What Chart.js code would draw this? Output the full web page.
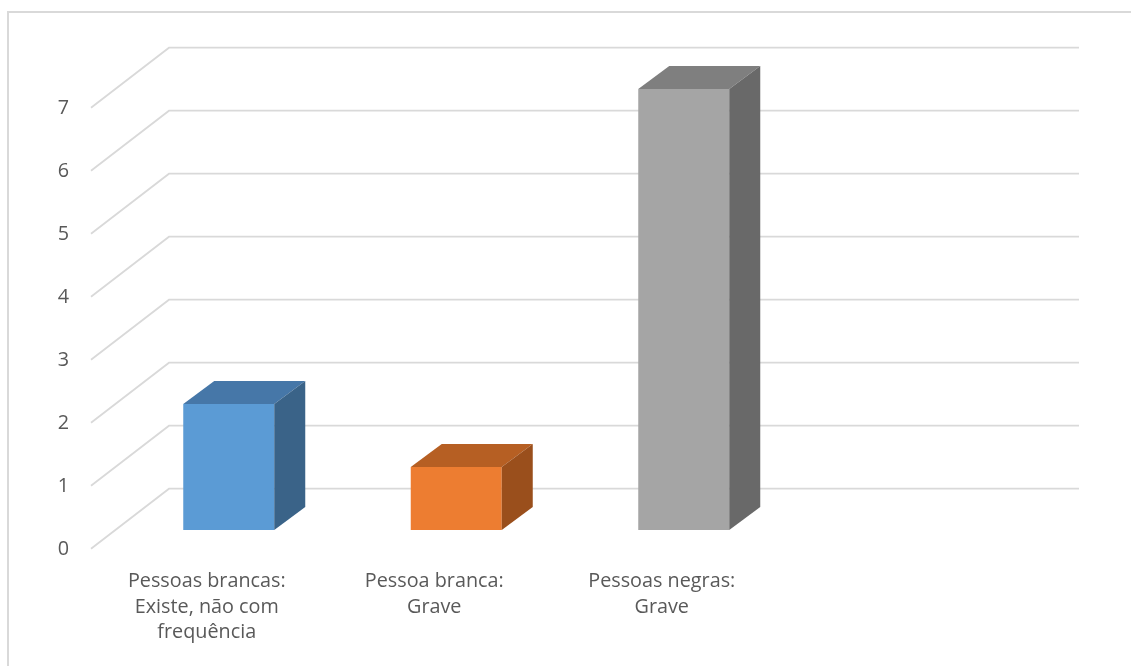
<!DOCTYPE html>
<html>
<head>
<meta charset="utf-8">
<script src="https://cdn.jsdelivr.net/npm/chart.js@4.4.0/dist/chart.umd.min.js"></script>
<style>
  html, body { margin:0; padding:0; background:#fff; overflow:hidden; }
  #frame { position:absolute; left:7px; top:11px; width:1140px; height:680px; border-left:2px solid #d9d9d9; border-top:2px solid #d9d9d9; box-sizing:border-box; }
  #chart { position:absolute; left:0; top:0; }
</style>
</head>
<body>
<div id="frame"></div>
<canvas id="chart" width="1131" height="666"></canvas>
<script>
// ===== data =====
const categories = [
  ['Pessoas brancas:', 'Existe, não com', 'frequência'],
  ['Pessoa branca:', 'Grave'],
  ['Pessoas negras:', 'Grave'],
  ''
];
const values = [2, 1, 7, null];
const yTicks = [0, 1, 2, 3, 4, 5, 6, 7];

// face colours (front / top / side)
const frontColors = ['#5b9bd5', '#ed7d31', '#a5a5a5', '#5b9bd5'];
const topColors   = ['#4677a8', '#b65f23', '#7f7f7f', '#4677a8'];
const sideColors  = ['#3a6388', '#9a4f1c', '#696969', '#3a6388'];

// 3d geometry (px)
const barDepth = { dx: 31, dy: -23 };        // bar front -> bar back
const toFront  = { dx: -24, dy: 18.7 };      // bar plane -> front edge of floor
const toBack   = { dx: 54, dy: -41.3 };      // bar plane -> back wall
const gridColor = '#d9d9d9';

const walls3d = {
  id: 'walls3d',
  beforeDatasetsDraw(chart) {
    const { ctx, chartArea, scales } = chart;
    const y = scales.y;
    ctx.save();
    ctx.strokeStyle = gridColor;
    ctx.lineWidth = 1.8;
    yTicks.forEach(v => {
      const py = y.getPixelForValue(v);
      ctx.beginPath();
      ctx.moveTo(chartArea.left + toFront.dx, py + toFront.dy);
      ctx.lineTo(chartArea.left + toBack.dx, py + toBack.dy);
      ctx.lineTo(chartArea.right + toBack.dx, py + toBack.dy);
      ctx.stroke();
    });
    ctx.restore();
  },
  afterDatasetsDraw(chart) {
    const { ctx } = chart;
    const meta = chart.getDatasetMeta(0);
    ctx.save();
    meta.data.forEach((bar, i) => {
      if (values[i] == null) return;
      const { x, y, base, width } = bar.getProps(['x', 'y', 'base', 'width'], true);
      const l = x - width / 2, r = x + width / 2;
      // top face
      ctx.fillStyle = topColors[i];
      ctx.beginPath();
      ctx.moveTo(l, y);
      ctx.lineTo(l + barDepth.dx, y + barDepth.dy);
      ctx.lineTo(r + barDepth.dx, y + barDepth.dy);
      ctx.lineTo(r, y);
      ctx.closePath();
      ctx.fill();
      // side face
      ctx.fillStyle = sideColors[i];
      ctx.beginPath();
      ctx.moveTo(r, y);
      ctx.lineTo(r + barDepth.dx, y + barDepth.dy);
      ctx.lineTo(r + barDepth.dx, base + barDepth.dy);
      ctx.lineTo(r, base);
      ctx.closePath();
      ctx.fill();
    });
    ctx.restore();
  }
};

const ctx = document.getElementById('chart').getContext('2d');
new Chart(ctx, {
  type: 'bar',
  data: {
    labels: categories,
    datasets: [{
      data: values,
      backgroundColor: frontColors,
      borderWidth: 0,
      barPercentage: 0.4,
      categoryPercentage: 1
    }]
  },
  options: {
    responsive: false,
    animation: false,
    events: [],
    layout: { padding: { left: 0, top: 89, right: 106, bottom: 0 } },
    plugins: { legend: { display: false }, tooltip: { enabled: false } },
    scales: {
      x: {
        grid: { display: false, drawTicks: false },
        border: { display: false },
        ticks: {
          color: '#595959', font: { family: 'Open Sans', size: 19.8, lineHeight: 1.28 },
          padding: 39, labelOffset: -22, autoSkip: false, maxRotation: 0, minRotation: 0
        },
        afterFit(scale) { scale.height = 136; }
      },
      y: {
        min: 0, max: 7,
        grid: { display: false, drawTicks: false },
        border: { display: false },
        ticks: {
          stepSize: 1, color: '#595959', font: { family: 'Open Sans', size: 19.8 },
          padding: 46, labelOffset: 19
        },
        afterFit(scale) { scale.width = 115; }
      }
    }
  },
  plugins: [walls3d]
});
</script>
</body>
</html>
